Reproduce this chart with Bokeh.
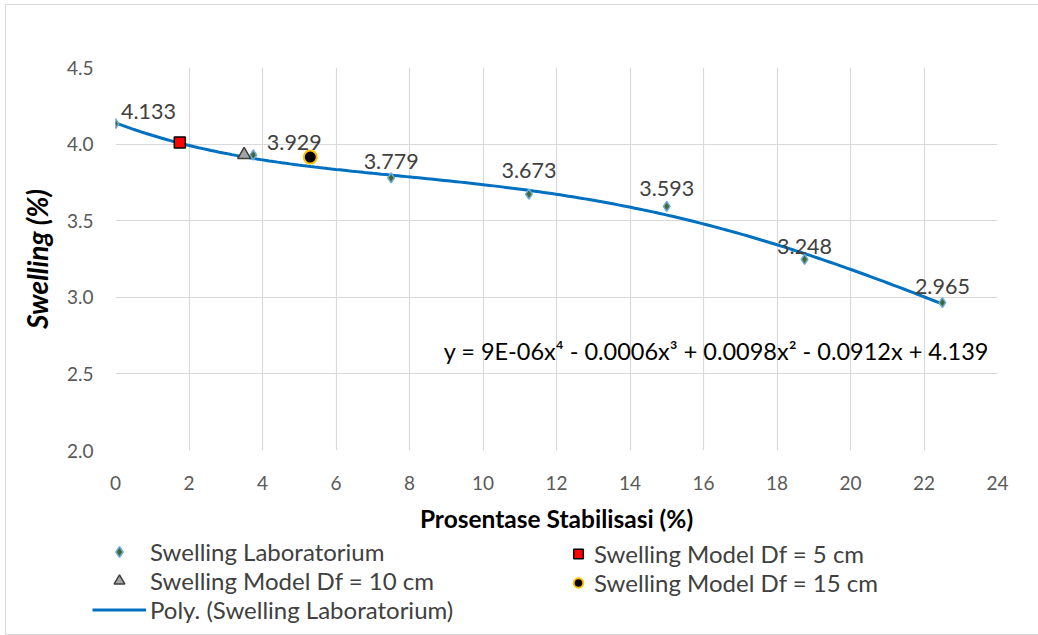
import numpy as np
from bokeh.plotting import figure
from bokeh.layouts import column
from bokeh.models import (ColumnDataSource, Legend, LegendItem, Label, FixedTicker,
                          NumeralTickFormatter)
from bokeh.core.properties import value
from bokeh.embed import file_html
from bokeh.resources import INLINE

# Laboratory swelling vs. stabiliser percentage
lab_x = [0, 3.75, 7.5, 11.25, 15, 18.75, 22.5]
lab_y = [4.133, 3.929, 3.779, 3.673, 3.593, 3.248, 2.965]

# Model results for three foundation depths
df5_x, df5_y = [1.75], [4.01]
df10_x, df10_y = [3.5], [3.93]
df15_x, df15_y = [5.3], [3.915]

# Coefficients shown for the 4th-order trendline (highest power first)
eq_coeffs = ["9E-06", "0.0006", "0.0098", "0.0912", "4.139"]
eq_signs = ["", "-", "+", "-", "+"]

x_ticks = list(range(0, 25, 2))
y_ticks = [2.0, 2.5, 3.0, 3.5, 4.0, 4.5]

# nudges for the data labels (px)
label_dx = [33, 41, 0, 0, 0, 0, 0]
label_dy = [-5, -5, -9, -16, -10, -5, -9]

FONT = "Lato"
TXT = "#404040"

# ---- main chart ----
p = figure(width=1032, height=530, x_range=(0, 24), y_range=(2.0, 4.5),
           output_backend="svg", toolbar_location=None,
           min_border_left=109, min_border_right=41,
           min_border_top=62, min_border_bottom=83)
p.outline_line_color = None
p.frame_align = False

for ax in (p.xaxis, p.yaxis):
    ax.axis_line_color = None
    ax.major_tick_line_color = None
    ax.minor_tick_line_color = None
    ax.major_label_text_font = FONT
    ax.major_label_text_font_size = "19px"
    ax.major_label_text_color = "#595959"
    ax.axis_label_text_font = FONT
    ax.axis_label_text_color = "#000000"

p.xaxis.ticker = FixedTicker(ticks=x_ticks)
p.yaxis.ticker = FixedTicker(ticks=y_ticks)
p.yaxis.formatter = NumeralTickFormatter(format="0.0")
p.xaxis.major_label_standoff = 19
p.yaxis.major_label_standoff = 16
p.xaxis.axis_label = "Prosentase Stabilisasi (%)"
p.xaxis.axis_label_text_font_style = "bold"
p.xaxis.axis_label_text_font_size = "24.5px"
p.xaxis.axis_label_standoff = 11
p.yaxis.axis_label = "Swelling (%)"
p.yaxis.axis_label_text_font_style = "bold italic"
p.yaxis.axis_label_text_font_size = "28px"
p.yaxis.axis_label_standoff = 10

p.xgrid.grid_line_color = "#d9d9d9"
p.ygrid.grid_line_color = "#d9d9d9"
p.xgrid.grid_line_width = 1.2
p.ygrid.grid_line_width = 1.2

# polynomial trendline (4th order least squares on lab data)
coef = np.polyfit(lab_x, lab_y, 4)
xs = np.linspace(min(lab_x), max(lab_x), 200)
p.line(xs, np.polyval(coef, xs), line_color="#0070C0", line_width=3)

lab_src = ColumnDataSource(dict(x=lab_x, y=lab_y, label=[f"{v:.3f}" for v in lab_y],
                                dx=label_dx, dy=label_dy))
p.scatter("x", "y", source=lab_src, marker="diamond", size=10,
          fill_color="#3e6b2f", line_color="#6fa8dc", line_width=1.5)
p.text("x", "y", text="label", source=lab_src, x_offset="dx", y_offset="dy",
       text_align="center", text_baseline="bottom", text_font=value(FONT),
       text_font_size="21.5px", text_color=TXT)

SQ = dict(marker="square", size=11, fill_color="#ff0000", line_color="#000000", line_width=1.5)
TR = dict(marker="triangle", size=13, fill_color="#a5a5a5", line_color="#404040", line_width=1.5)
CI = dict(marker="circle", size=13, fill_color="#000000", line_color="#ffc000", line_width=2)
DI = dict(marker="diamond", size=10, fill_color="#3e6b2f", line_color="#6fa8dc", line_width=1.5)

p.scatter(df5_x, df5_y, **SQ)
p.scatter(df10_x, df10_y, **TR)
p.scatter(df15_x, df15_y, **CI)

powers = ["x\u2074", "x\u00b3", "x\u00b2", "x", ""]
eq_text = "y = " + "".join((f" {s} " if s else "") + c + pw
                           for s, c, pw in zip(eq_signs, eq_coeffs, powers))
p.add_layout(Label(x=8.93, y=2.65, text=eq_text, text_font=FONT, text_font_size="23.5px",
                   text_color="#000000", text_baseline="middle", text_align="left"))

# ---- legend strip ----
lg = figure(width=1032, height=99, x_range=(0, 1), y_range=(0, 1),
            x_axis_type=None, y_axis_type=None, output_backend="svg",
            toolbar_location=None, min_border=0)
lg.outline_line_color = None
lg.frame_align = False
# off-canvas sample points so the legend has glyphs to draw
r_lab = lg.scatter([-5], [-5], **dict(DI, size=9))
r5 = lg.scatter([-5], [-5], **dict(SQ, size=10))
r10 = lg.scatter([-5], [-5], **dict(TR, size=12))
r15 = lg.scatter([-5], [-5], **dict(CI, size=12))
r_poly = lg.line([-5, -4], [-5, -5], line_color="#0070C0", line_width=3)

common = dict(border_line_color=None, background_fill_alpha=0, padding=0, margin=0,
              label_text_font=FONT, label_text_font_size="24px", label_text_color=TXT,
              glyph_height=27, label_height=27, spacing=0, label_standoff=4)

leg1 = Legend(items=[LegendItem(label="Swelling Laboratorium", renderers=[r_lab]),
                     LegendItem(label="Swelling Model Df = 10 cm", renderers=[r10]),
                     LegendItem(label="Poly. (Swelling Laboratorium)", renderers=[r_poly])],
              location=(86, 10), glyph_width=54, **common)
leg2 = Legend(items=[LegendItem(label="Swelling Model Df = 5 cm", renderers=[r5]),
                     LegendItem(label="Swelling Model Df = 15 cm", renderers=[r15])],
              location=(560, 37), glyph_width=24, **common)
lg.add_layout(leg1, "center")
lg.add_layout(leg2, "center")

page = column(p, lg, spacing=0)
page.styles = {"border-top": "1px solid #d9d9d9", "border-left": "1px solid #d9d9d9",
               "border-bottom": "1px solid #d9d9d9", "margin-left": "5px",
               "margin-top": "4px"}

open("out.html", "w").write(file_html(page, INLINE))
